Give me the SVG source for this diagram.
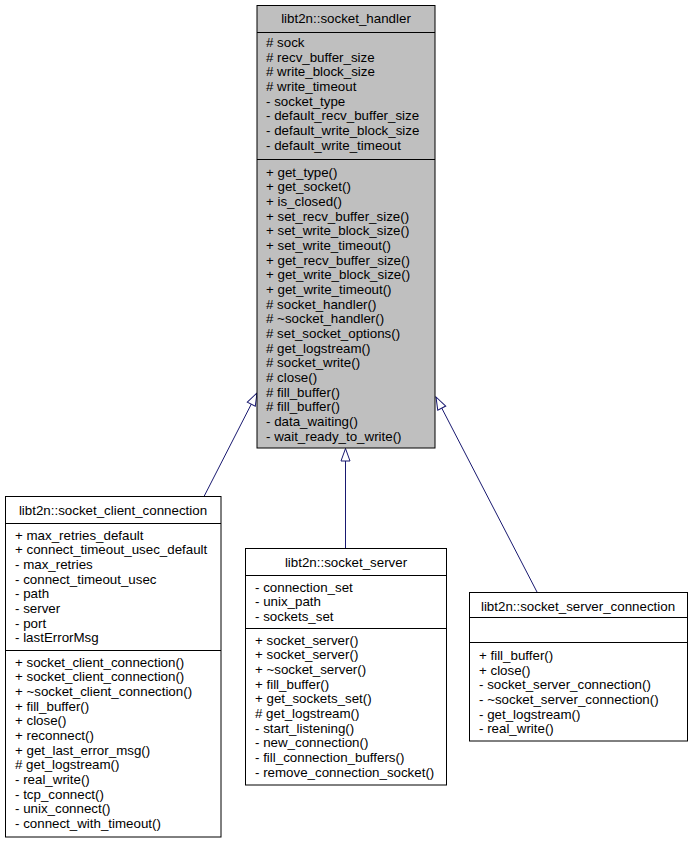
<svg xmlns="http://www.w3.org/2000/svg" width="691" height="843" viewBox="0 0 691 843">
<style>
  .box{fill:#ffffff;stroke:#000000;stroke-width:1}
  .base{fill:#bfbfbf;stroke:#000000;stroke-width:1}
  .div{stroke:#000000;stroke-width:1}
  text{font-family:"Liberation Sans",Arial,Helvetica,sans-serif;font-size:13.33px;fill:#000000}
  .t{text-anchor:middle}
  .edge{stroke:#191970;stroke-width:1;fill:none}
</style>
<defs>
  <marker id="inh" markerUnits="userSpaceOnUse" markerWidth="16" markerHeight="12" viewBox="0 -6 16 12" refX="14" refY="0" orient="auto">
    <path d="M1.5,-4.5 L14,0 L1.5,4.5 Z" fill="#ffffff" stroke="#191970" stroke-width="1"/>
  </marker>
</defs>
<rect width="691" height="843" fill="#ffffff"/>

<g id="edges">
  <line class="edge" x1="204" y1="496.5" x2="257" y2="393" marker-end="url(#inh)"/>
  <line class="edge" x1="345.5" y1="548" x2="345.5" y2="448.5" marker-end="url(#inh)"/>
  <line class="edge" x1="537" y1="592" x2="436" y2="397" marker-end="url(#inh)"/>
</g>

<g id="socket_handler">
  <rect class="base" x="257" y="5.5" width="178" height="442.5"/>
  <line class="div" x1="257" y1="32.5" x2="435" y2="32.5"/>
  <line class="div" x1="257" y1="159.5" x2="435" y2="159.5"/>
  <text class="t" x="346" y="23">libt2n::socket_handler</text>
  <text x="266" y="47"># sock</text>
  <text x="266" y="61.67"># recv_buffer_size</text>
  <text x="266" y="76.33"># write_block_size</text>
  <text x="266" y="91"># write_timeout</text>
  <text x="266" y="105.67">- socket_type</text>
  <text x="266" y="120.33">- default_recv_buffer_size</text>
  <text x="266" y="135">- default_write_block_size</text>
  <text x="266" y="149.67">- default_write_timeout</text>
  <text x="266" y="176.5">+ get_type()</text>
  <text x="266" y="191.17">+ get_socket()</text>
  <text x="266" y="205.83">+ is_closed()</text>
  <text x="266" y="220.5">+ set_recv_buffer_size()</text>
  <text x="266" y="235.17">+ set_write_block_size()</text>
  <text x="266" y="249.83">+ set_write_timeout()</text>
  <text x="266" y="264.5">+ get_recv_buffer_size()</text>
  <text x="266" y="279.17">+ get_write_block_size()</text>
  <text x="266" y="293.83">+ get_write_timeout()</text>
  <text x="266" y="308.5"># socket_handler()</text>
  <text x="266" y="323.17"># ~socket_handler()</text>
  <text x="266" y="337.83"># set_socket_options()</text>
  <text x="266" y="352.5"># get_logstream()</text>
  <text x="266" y="367.17"># socket_write()</text>
  <text x="266" y="381.83"># close()</text>
  <text x="266" y="396.5"># fill_buffer()</text>
  <text x="266" y="411.17"># fill_buffer()</text>
  <text x="266" y="425.83">- data_waiting()</text>
  <text x="266" y="440.5">- wait_ready_to_write()</text>
</g>

<g id="socket_client_connection">
  <rect class="box" x="5.5" y="496.5" width="215.5" height="340.5"/>
  <line class="div" x1="5.5" y1="523.5" x2="221" y2="523.5"/>
  <line class="div" x1="5.5" y1="650.5" x2="221" y2="650.5"/>
  <text class="t" x="113" y="515">libt2n::socket_client_connection</text>
  <text x="15" y="539.5">+ max_retries_default</text>
  <text x="15" y="554.2">+ connect_timeout_usec_default</text>
  <text x="15" y="568.8">- max_retries</text>
  <text x="15" y="583.5">- connect_timeout_usec</text>
  <text x="15" y="598.2">- path</text>
  <text x="15" y="612.8">- server</text>
  <text x="15" y="627.5">- port</text>
  <text x="15" y="642.2">- lastErrorMsg</text>
  <text x="15" y="666.5">+ socket_client_connection()</text>
  <text x="15" y="681.2">+ socket_client_connection()</text>
  <text x="15" y="695.8">+ ~socket_client_connection()</text>
  <text x="15" y="710.5">+ fill_buffer()</text>
  <text x="15" y="725.2">+ close()</text>
  <text x="15" y="739.8">+ reconnect()</text>
  <text x="15" y="754.5">+ get_last_error_msg()</text>
  <text x="15" y="769.2"># get_logstream()</text>
  <text x="15" y="783.8">- real_write()</text>
  <text x="15" y="798.5">- tcp_connect()</text>
  <text x="15" y="813.2">- unix_connect()</text>
  <text x="15" y="827.8">- connect_with_timeout()</text>
</g>

<g id="socket_server">
  <rect class="box" x="245.5" y="548.5" width="201" height="236.5"/>
  <line class="div" x1="245.5" y1="575.5" x2="446.5" y2="575.5"/>
  <line class="div" x1="245.5" y1="628.5" x2="446.5" y2="628.5"/>
  <text class="t" x="346" y="567">libt2n::socket_server</text>
  <text x="255" y="591.5">- connection_set</text>
  <text x="255" y="606.2">- unix_path</text>
  <text x="255" y="620.8">- sockets_set</text>
  <text x="255" y="644.5">+ socket_server()</text>
  <text x="255" y="659.2">+ socket_server()</text>
  <text x="255" y="673.8">+ ~socket_server()</text>
  <text x="255" y="688.5">+ fill_buffer()</text>
  <text x="255" y="703.2">+ get_sockets_set()</text>
  <text x="255" y="717.8"># get_logstream()</text>
  <text x="255" y="732.5">- start_listening()</text>
  <text x="255" y="747.2">- new_connection()</text>
  <text x="255" y="761.8">- fill_connection_buffers()</text>
  <text x="255" y="776.5">- remove_connection_socket()</text>
</g>

<g id="socket_server_connection">
  <rect class="box" x="469.5" y="592.5" width="218" height="148.5"/>
  <line class="div" x1="469.5" y1="617.5" x2="687.5" y2="617.5"/>
  <line class="div" x1="469.5" y1="642.5" x2="687.5" y2="642.5"/>
  <text class="t" x="578" y="610.5">libt2n::socket_server_connection</text>
  <text x="479" y="660">+ fill_buffer()</text>
  <text x="479" y="674.7">+ close()</text>
  <text x="479" y="689.3">- socket_server_connection()</text>
  <text x="479" y="704">- ~socket_server_connection()</text>
  <text x="479" y="718.7">- get_logstream()</text>
  <text x="479" y="733.3">- real_write()</text>
</g>
</svg>
